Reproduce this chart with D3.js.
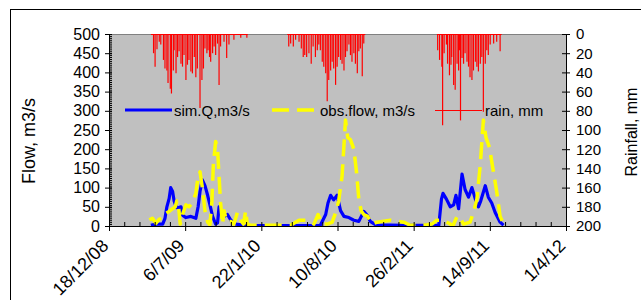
<!DOCTYPE html>
<html><head><meta charset="utf-8">
<script src="https://cdn.jsdelivr.net/npm/d3@7"></script>
<style>body{margin:0;background:#fff} text{font-family:"Liberation Sans",Arial,sans-serif}</style>
</head><body><svg id="c" width="641" height="300"></svg>
<script>
// ---- data ----
const dateTicks = ["2008-12-18","2009-07-06","2010-01-22","2010-08-10","2011-02-26","2011-09-14","2012-04-01"];
const flowTicks = [0,50,100,150,200,250,300,350,400,450,500];
const rainTicks = [0,20,40,60,80,100,120,140,160,180,200];
const seriesNames = ["sim.Q,m3/s","obs.flow, m3/s","rain, mm"];

const simQ = [["2009-04-07",2],["2009-04-20",5],["2009-05-08",5],["2009-05-14",20],["2009-05-19",50],["2009-05-25",72],["2009-05-29",100],["2009-06-03",90],["2009-06-07",65],["2009-06-13",48],["2009-06-20",48],["2009-06-25",50],["2009-06-29",28],["2009-07-08",22],["2009-07-21",25],["2009-08-03",20],["2009-08-09",50],["2009-08-14",90],["2009-08-20",120],["2009-08-27",105],["2009-09-03",80],["2009-09-09",55],["2009-09-16",25],["2009-09-24",5],["2009-09-29",8],["2009-10-03",50],["2009-10-09",30],["2009-10-16",25],["2009-10-25",30],["2009-11-03",15],["2009-11-16",5],["2009-11-29",3],["2009-12-25",1],["2010-02-15",1],["2010-06-26",2],["2010-07-10",30],["2010-07-16",60],["2010-07-23",80],["2010-07-31",68],["2010-08-09",80],["2010-08-18",40],["2010-08-27",25],["2010-09-09",22],["2010-09-22",15],["2010-10-05",12],["2010-10-18",38],["2010-10-27",28],["2010-11-04",12],["2010-11-18",3],["2011-01-31",2],["2011-05-03",2],["2011-05-10",70],["2011-05-14",85],["2011-05-23",70],["2011-06-02",50],["2011-06-11",55],["2011-06-17",80],["2011-06-24",45],["2011-07-03",135],["2011-07-11",95],["2011-07-20",75],["2011-07-29",100],["2011-08-07",70],["2011-08-15",50],["2011-08-21",65],["2011-09-02",105],["2011-09-10",75],["2011-09-19",60],["2011-09-28",35],["2011-10-11",10],["2011-10-20",2]];

const obsFlow = [["2009-04-03",16],["2009-04-11",20],["2009-04-20",7],["2009-04-29",18],["2009-05-08",20],["2009-05-16",33],["2009-05-25",38],["2009-06-03",45],["2009-06-10",50],["2009-06-14",65],["2009-06-18",58],["2009-06-23",5],["2009-06-29",30],["2009-07-08",55],["2009-07-16",50],["2009-07-25",60],["2009-08-03",85],["2009-08-09",130],["2009-08-14",141],["2009-08-20",100],["2009-08-27",40],["2009-09-03",10],["2009-09-09",3],["2009-09-14",60],["2009-09-18",160],["2009-09-24",220],["2009-09-29",200],["2009-10-03",130],["2009-10-07",60],["2009-10-12",5],["2009-10-16",40],["2009-10-21",20],["2009-10-27",10],["2009-11-03",12],["2009-11-11",5],["2009-11-20",35],["2009-11-29",15],["2009-12-06",5],["2009-12-12",40],["2009-12-16",5],["2009-12-25",2],["2010-01-20",2],["2010-02-15",2],["2010-04-09",2],["2010-05-01",15],["2010-05-23",15],["2010-06-09",5],["2010-06-20",30],["2010-07-01",5],["2010-07-14",5],["2010-07-27",10],["2010-08-07",40],["2010-08-13",65],["2010-08-22",130],["2010-08-31",276],["2010-09-06",230],["2010-09-13",225],["2010-09-22",200],["2010-09-29",140],["2010-10-05",70],["2010-10-11",40],["2010-10-18",30],["2010-10-28",25],["2010-11-09",5],["2010-11-22",10],["2010-12-27",15],["2011-01-31",10],["2011-02-17",2],["2011-04-02",3],["2011-04-15",5],["2011-04-28",15],["2011-05-15",15],["2011-06-02",5],["2011-06-09",0],["2011-06-20",25],["2011-06-26",25],["2011-07-07",5],["2011-07-24",10],["2011-08-02",35],["2011-08-11",70],["2011-08-20",160],["2011-08-28",276],["2011-09-04",230],["2011-09-13",205],["2011-09-22",150],["2011-10-02",90],["2011-10-11",25],["2011-10-20",5]];

const rainPeriods = [["2009-04-07","2009-12-17"],["2010-03-31","2010-10-22"],["2011-04-28","2011-10-15"]];
const rain = [["2009-04-14",20],["2009-04-18",34],["2009-04-23",16],["2009-04-29",8],["2009-05-03",11],["2009-05-10",27],["2009-05-14",36],["2009-05-19",38],["2009-05-22",51],["2009-05-28",57],["2009-05-31",62],["2009-06-05",38],["2009-06-07",17],["2009-06-12",41],["2009-06-16",24],["2009-06-20",18],["2009-06-25",31],["2009-06-29",34],["2009-07-03",22],["2009-07-08",48],["2009-07-12",32],["2009-07-16",27],["2009-07-21",39],["2009-07-25",41],["2009-07-30",24],["2009-08-03",45],["2009-08-07",36],["2009-08-14",77],["2009-08-19",48],["2009-08-23",36],["2009-08-27",15],["2009-09-01",20],["2009-09-04",17],["2009-09-08",24],["2009-09-11",29],["2009-09-16",20],["2009-09-20",13],["2009-09-24",22],["2009-09-29",10],["2009-10-03",53],["2009-10-07",13],["2009-10-16",8],["2009-10-23",25],["2009-10-29",11],["2009-11-11",6],["2009-11-29",4],["2009-12-15",4],
["2010-04-04",13],["2010-04-09",10],["2010-04-16",13],["2010-04-22",6],["2010-05-01",8],["2010-05-07",15],["2010-05-12",24],["2010-05-16",22],["2010-05-21",24],["2010-05-27",20],["2010-06-02",31],["2010-06-07",13],["2010-06-13",24],["2010-06-18",17],["2010-06-22",11],["2010-06-26",17],["2010-07-01",29],["2010-07-05",34],["2010-07-10",41],["2010-07-14",70],["2010-07-18",48],["2010-07-23",38],["2010-07-27",29],["2010-07-31",36],["2010-08-05",53],["2010-08-09",34],["2010-08-13",24],["2010-08-18",27],["2010-08-22",31],["2010-08-27",38],["2010-08-31",24],["2010-09-04",18],["2010-09-09",11],["2010-09-13",22],["2010-09-17",29],["2010-09-22",20],["2010-09-26",31],["2010-10-01",41],["2010-10-05",18],["2010-10-09",15],["2010-10-14",44],["2010-10-18",10],
["2011-04-30",17],["2011-05-05",27],["2011-05-11",34],["2011-05-13",95],["2011-05-17",20],["2011-05-23",11],["2011-05-26",31],["2011-05-31",43],["2011-06-04",32],["2011-06-06",24],["2011-06-11",53],["2011-06-15",58],["2011-06-20",31],["2011-06-24",38],["2011-06-26",17],["2011-06-29",90],["2011-07-03",25],["2011-07-07",31],["2011-07-11",20],["2011-07-16",29],["2011-07-20",34],["2011-07-24",45],["2011-07-29",48],["2011-08-02",38],["2011-08-07",29],["2011-08-11",34],["2011-08-15",39],["2011-08-20",31],["2011-08-24",24],["2011-08-28",81],["2011-09-02",31],["2011-09-06",17],["2011-09-10",22],["2011-09-15",11],["2011-09-24",10],["2011-10-02",8],["2011-10-11",18]];

// ---- drawing ----
const parse = d3.utcParse("%Y-%m-%d");
const fmt = d3.utcFormat("%-d/%-m/%y");
const svg = d3.select("#c");
const FONT = '"Liberation Sans", Arial, sans-serif';
const P = {l:109, r:566, t:34, b:226};

svg.append("rect").attr("x",10.5).attr("y",9.5).attr("width",640).attr("height",300)
  .attr("fill","#fff").attr("stroke","#000");

const start = parse(dateTicks[0]), end = parse(dateTicks[dateTicks.length-1]);
const x = d3.scaleUtc().domain([start,end]).range([P.l,P.r]);
const yL = d3.scaleLinear().domain([0,500]).range([P.b,P.t]);
const yR = d3.scaleLinear().domain([0,200]).range([P.t,P.b]);

svg.append("rect").attr("x",P.l).attr("y",P.t).attr("width",P.r-P.l).attr("height",P.b-P.t).attr("fill","#C0C0C0");
svg.append("line").attr("x1",P.l).attr("x2",P.r).attr("y1",P.t+0.5).attr("y2",P.t+0.5).attr("stroke","#808080");

svg.append("clipPath").attr("id","clip").append("rect").attr("x",P.l).attr("y",P.t).attr("width",P.r-P.l).attr("height",P.b-P.t);
const plot = svg.append("g").attr("clip-path","url(#clip)");

// rain: zero line during recording periods + daily spikes
plot.selectAll("line.rp").data(rainPeriods).join("line")
  .attr("x1",d=>x(parse(d[0]))).attr("x2",d=>x(parse(d[1])))
  .attr("y1",yR(0)+0.5).attr("y2",yR(0)+0.5).attr("stroke","#FF0000").attr("stroke-width",1);
plot.selectAll("line.rs").data(rain).join("line")
  .attr("x1",d=>x(parse(d[0]))).attr("x2",d=>x(parse(d[0])))
  .attr("y1",yR(0)).attr("y2",d=>yR(d[1])).attr("stroke","#FF0000").attr("stroke-width",1.2);

const lineL = d3.line().x(d=>x(parse(d[0]))).y(d=>yL(d[1]));
plot.append("path").attr("d",lineL(simQ)).attr("fill","none").attr("stroke","#0000FF").attr("stroke-width",3.2).attr("stroke-linejoin","round");
plot.append("path").attr("d",lineL(obsFlow)).attr("fill","none").attr("stroke","#FFFF00").attr("stroke-width",3.5)
  .attr("stroke-dasharray","17,8").attr("stroke-linejoin","round");

// axes
function styleAxis(g, size){ g.attr("font-family",FONT).attr("font-size",size); g.selectAll("text").attr("fill","#000"); g.selectAll("line,path").attr("stroke","#000"); }
const minorX = d3.range(0, 1201, 40).map(k=>d3.utcDay.offset(start,k));
const gxm = svg.append("g").attr("transform",`translate(0,${P.b})`).call(d3.axisTop(x).tickValues(minorX).tickSize(4).tickFormat(""));
styleAxis(gxm,15);
const gx = svg.append("g").attr("transform",`translate(0,${P.b})`).call(d3.axisBottom(x).tickValues(dateTicks.map(parse)).tickSize(5).tickFormat(fmt));
styleAxis(gx,18);
gx.selectAll(".tick text").attr("x",0).attr("y",0).attr("dy",0).attr("text-anchor","end")
  .attr("transform","translate(0,21) rotate(-45)");

const minorY = d3.range(0,501,5);
const gym = svg.append("g").attr("transform",`translate(${P.l},0)`).call(d3.axisRight(yL).tickValues(minorY).tickSize(3).tickFormat(""));
styleAxis(gym,15); gym.select(".domain").remove();
const gy = svg.append("g").attr("transform",`translate(${P.l},0)`).call(d3.axisLeft(yL).tickValues(flowTicks).tickSize(4).tickPadding(5));
styleAxis(gy,16);
const gy2i = svg.append("g").attr("transform",`translate(${P.l},0)`).call(d3.axisRight(yL).tickValues(flowTicks).tickSize(3).tickFormat(""));
styleAxis(gy2i,15); gy2i.select(".domain").remove();

const gr = svg.append("g").attr("transform",`translate(${P.r},0)`).call(d3.axisRight(yR).tickValues(rainTicks).tickSize(4).tickPadding(6));
styleAxis(gr,15);
const gri = svg.append("g").attr("transform",`translate(${P.r},0)`).call(d3.axisLeft(yR).tickValues(rainTicks).tickSize(4).tickFormat(""));
styleAxis(gri,15); gri.select(".domain").remove();

// titles
svg.append("text").attr("transform","translate(35,141) rotate(-90)").attr("text-anchor","middle")
  .attr("font-family",FONT).attr("font-size",18).text("Flow, m3/s");
svg.append("text").attr("transform","translate(637,132) rotate(-90)").attr("text-anchor","middle")
  .attr("font-family",FONT).attr("font-size",16).text("Rainfall, mm");

// legend
const lg = svg.append("g").attr("font-family",FONT).attr("font-size",15);
lg.append("line").attr("x1",125).attr("x2",172).attr("y1",110).attr("y2",110).attr("stroke","#0000FF").attr("stroke-width",3);
lg.append("text").attr("x",174).attr("y",115.5).text(seriesNames[0]);
lg.append("line").attr("x1",272).attr("x2",314).attr("y1",110).attr("y2",110).attr("stroke","#FFFF00").attr("stroke-width",3.5).attr("stroke-dasharray","17,8");
lg.append("text").attr("x",320).attr("y",115.5).text(seriesNames[1]);
lg.append("line").attr("x1",435).attr("x2",482).attr("y1",110.5).attr("y2",110.5).attr("stroke","#FF0000").attr("stroke-width",1);
lg.append("text").attr("x",485).attr("y",115.5).text(seriesNames[2]);
</script></body></html>
